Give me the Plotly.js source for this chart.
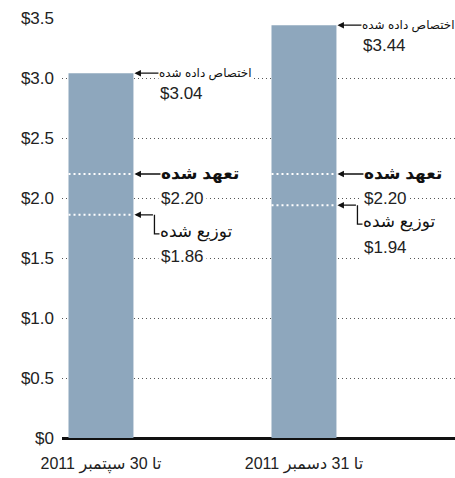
<!DOCTYPE html>
<html>
<head>
<meta charset="utf-8">
<script src="https://cdn.plot.ly/plotly-3.0.1.min.js"></script>
<style>html,body{margin:0;padding:0;background:#fff}#chart{width:455px;height:478px}</style>
</head>
<body>
<div id="chart"></div>
<script>
const categories = ['تا 30 سپتمبر 2011', 'تا 31 دسمبر 2011'];
const allocated = [3.04, 3.44];
const obligated = [2.20, 2.20];
const disbursed = [1.86, 1.94];
const allocatedLabel = 'اختصاص داده شده';
const obligatedLabel = 'تعهد شده';
const disbursedLabel = 'توزیع شده';
const yTickVals = [0, 0.5, 1.0, 1.5, 2.0, 2.5, 3.0, 3.5];
const yTickText = ['$0', '$0.5', '$1.0', '$1.5', '$2.0', '$2.5', '$3.0', '$3.5'];

const FONT = 'Liberation Sans, Arial, DejaVu Sans, sans-serif';
const barW = 0.32;
const xIdx = categories.map((c, i) => i);

const shapes = [];
const annotations = [];
const fmt = v => '$' + v.toFixed(2);

xIdx.forEach(i => {
  const edge = i + barW / 2;
  [obligated[i], disbursed[i]].forEach(v => {
    shapes.push({type: 'line', xref: 'x', yref: 'y', x0: i - barW / 2, x1: edge, y0: v, y1: v,
      line: {color: '#ffffff', width: 2, dash: '2px,3px'}, layer: 'above'});
  });
  annotations.push({x: edge, y: allocated[i], xref: 'x', yref: 'y', text: allocatedLabel,
    showarrow: true, ax: 25, ay: 0, xanchor: 'left', arrowhead: 2, arrowsize: 1, arrowwidth: 1.3,
    arrowcolor: '#111', standoff: 1, font: {family: FONT, size: 12, color: '#111'}, bgcolor: '#fff', borderpad: 0});
  annotations.push({x: edge, y: allocated[i], xref: 'x', yref: 'y', text: fmt(allocated[i]),
    showarrow: false, xanchor: 'left', xshift: 25, yshift: -20,
    font: {family: FONT, size: 17, color: '#222'}});
  annotations.push({x: edge, y: obligated[i], xref: 'x', yref: 'y', text: '<b>' + obligatedLabel + '</b>',
    showarrow: true, ax: 27, ay: 0, xanchor: 'left', arrowhead: 2, arrowsize: 1, arrowwidth: 1.3,
    arrowcolor: '#111', standoff: 1, font: {family: FONT, size: 17, color: '#111'}, bgcolor: '#fff', borderpad: 0});
  annotations.push({x: edge, y: obligated[i], xref: 'x', yref: 'y', text: fmt(obligated[i]),
    showarrow: false, xanchor: 'left', xshift: 25, yshift: -24, bgcolor: '#fff', borderpad: 2,
    font: {family: FONT, size: 17, color: '#222'}});
  annotations.push({x: edge, y: disbursed[i], xref: 'x', yref: 'y', text: '',
    showarrow: true, ax: 21, ay: 0, arrowhead: 2, arrowsize: 1, arrowwidth: 1.3,
    arrowcolor: '#111', standoff: 1});
  shapes.push({type: 'path', xref: 'x', yref: 'y', xsizemode: 'pixel', ysizemode: 'pixel',
    xanchor: edge, yanchor: disbursed[i], path: 'M 21 0 L 21 -19 L 27 -19',
    line: {color: '#111', width: 1.3}, layer: 'above'});
  annotations.push({x: edge, y: disbursed[i], xref: 'x', yref: 'y', text: disbursedLabel,
    showarrow: false, xanchor: 'left', xshift: 26, yshift: -17, bgcolor: '#fff', borderpad: 0,
    font: {family: FONT, size: 17, color: '#111'}});
  annotations.push({x: edge, y: disbursed[i], xref: 'x', yref: 'y', text: fmt(disbursed[i]),
    showarrow: false, xanchor: 'left', xshift: 25, yshift: -42, bgcolor: '#fff', borderpad: 2,
    font: {family: FONT, size: 17, color: '#222'}});
});

const data = [{
  type: 'bar', x: xIdx, y: allocated, width: barW,
  marker: {color: '#8ea7bd'}, hoverinfo: 'skip'
}];

const layout = {
  width: 455, height: 478,
  margin: {l: 62, r: 0, t: 18, b: 40},
  paper_bgcolor: '#fff', plot_bgcolor: '#fff',
  showlegend: false,
  font: {family: FONT, color: '#222'},
  xaxis: {range: [-0.192, 1.744], tickvals: xIdx, ticktext: categories, showgrid: false,
    zeroline: false, showline: false, ticks: '', ticklabelstandoff: 14,
    tickfont: {size: 16, color: '#222'}, fixedrange: true},
  yaxis: {range: [0, 3.5], tickvals: yTickVals, ticktext: yTickText, showgrid: true,
    gridcolor: '#555', gridwidth: 1, griddash: '1px,3px', zeroline: true, zerolinecolor: '#111',
    zerolinewidth: 3, ticks: '', ticklabelstandoff: 7, tickfont: {size: 17, color: '#222'}, fixedrange: true},
  shapes: shapes,
  annotations: annotations
};

Plotly.newPlot('chart', data, layout, {displayModeBar: false, staticPlot: true});
</script>
</body>
</html>
